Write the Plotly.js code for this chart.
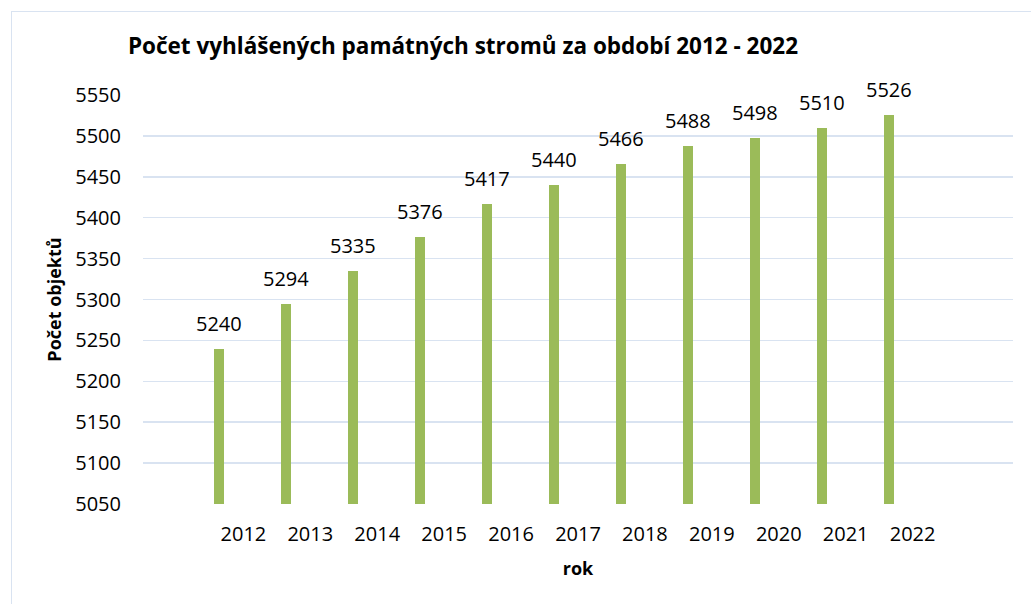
<!DOCTYPE html>
<html>
<head>
<meta charset="utf-8">
<script src="https://cdn.plot.ly/plotly-3.0.1.min.js"></script>
<style>
  html, body { margin: 0; padding: 0; background: #ffffff; overflow: hidden; }
  #frame { position: absolute; left: 11px; top: 11px; width: 1100px; height: 700px;
           border-left: 1.5px solid #d9e3f1; border-top: 1.5px solid #d9e3f1; box-sizing: border-box; }
  #chart { position: absolute; left: 0; top: 0; width: 1031px; height: 604px; }
</style>
</head>
<body>
<div id="frame"></div>
<div id="chart"></div>
<script>
const years = ['2012','2013','2014','2015','2016','2017','2018','2019','2020','2021','2022'];
const counts = [5240, 5294, 5335, 5376, 5417, 5440, 5466, 5488, 5498, 5510, 5526];
const yTicks = [5050, 5100, 5150, 5200, 5250, 5300, 5350, 5400, 5450, 5500, 5550];

const FONT = '"Open Sans", "Noto Sans", sans-serif';

const trace = {
  type: 'bar',
  x: years,
  y: counts,
  width: 0.15,
  offset: -0.434,
  marker: { color: '#9bbb59', line: { width: 0 } },
  hoverinfo: 'x+y'
};

const labels = counts.map((v, i) => ({
  x: i, y: v, xref: 'x', yref: 'y',
  text: String(v), showarrow: false,
  xanchor: 'center', yanchor: 'bottom',
  xshift: -24, yshift: 10,
  font: { family: FONT, size: 20, color: '#000000' }
}));

const layout = {
  width: 1031, height: 604,
  margin: { l: 143, r: 18, t: 95, b: 100 },
  paper_bgcolor: 'rgba(0,0,0,0)',
  plot_bgcolor: 'rgba(0,0,0,0)',
  showlegend: false,
  bargap: 0,
  title: {
    text: '<b>Počet vyhlášených památných stromů za období 2012 - 2022</b>',
    font: { family: FONT, size: 22.5, color: '#000000' },
    x: 463 / 1031, xref: 'container', xanchor: 'center',
    y: 1 - 46 / 604, yref: 'container', yanchor: 'middle'
  },
  xaxis: {
    type: 'category',
    categoryorder: 'array',
    categoryarray: years,
    range: [-1.5, years.length - 1 + 1.5],
    showgrid: false, zeroline: false, showline: false,
    ticks: 'outside', ticklen: 12, tickcolor: 'rgba(0,0,0,0)',
    tickfont: { family: FONT, size: 20, color: '#000000' },
    title: { text: '<b>rok</b>', font: { family: FONT, size: 18, color: '#000000' }, standoff: 16 },
    fixedrange: true
  },
  yaxis: {
    range: [5050, 5550],
    tickvals: yTicks,
    ticktext: yTicks.map(String),
    showgrid: true, gridcolor: '#d9e3f1', gridwidth: 1.5,
    zeroline: false, showline: false,
    ticks: 'outside', ticklen: 17, tickcolor: 'rgba(0,0,0,0)',
    tickfont: { family: FONT, size: 20, color: '#000000' },
    title: { text: '<b>Počet objektů</b>', font: { family: FONT, size: 18, color: '#000000' }, standoff: 8 },
    fixedrange: true
  },
  annotations: labels
};

Plotly.newPlot('chart', [trace], layout, { displayModeBar: false, staticPlot: true });
</script>
</body>
</html>
